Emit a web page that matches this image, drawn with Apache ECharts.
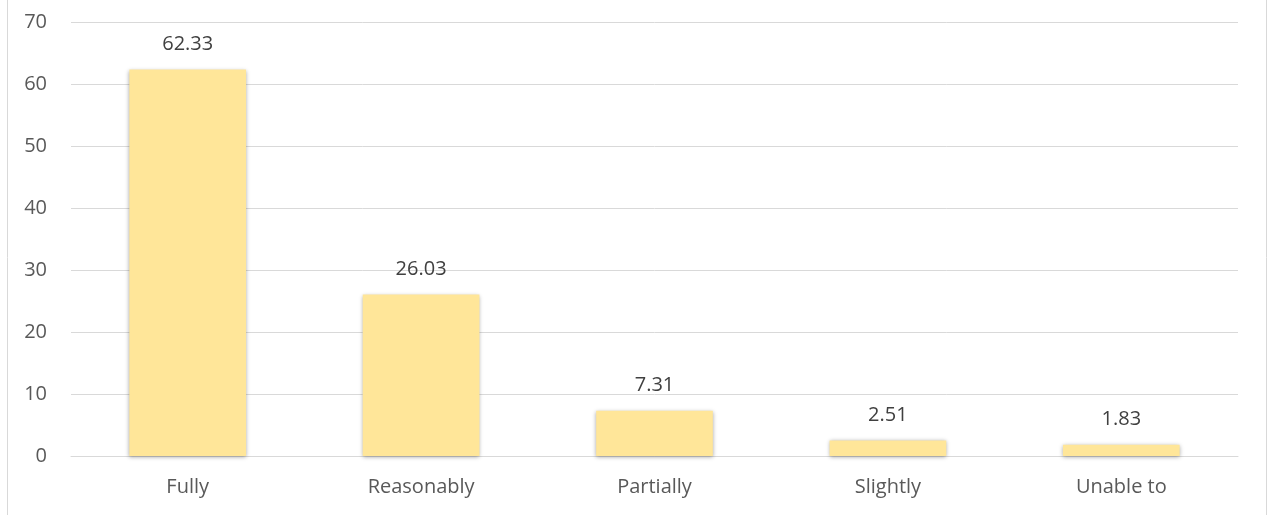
<!DOCTYPE html>
<html><head><meta charset="utf-8">
<script src="https://cdn.jsdelivr.net/npm/echarts@6/dist/echarts.min.js"></script>
<style>html,body{margin:0;padding:0;background:#fff}#c{width:1268px;height:515px}</style>
</head><body><div id="c"></div>
<script>
const categories = ["Fully", "Reasonably", "Partially", "Slightly", "Unable to"];
const values = [62.33, 26.03, 7.31, 2.51, 1.83];
const yTicks = {min: 0, max: 70, interval: 10};

const chart = echarts.init(document.getElementById('c'));
chart.setOption({
  animation: false,
  textStyle: {fontFamily: 'Open Sans'},
  grid: {left: 71, right: 30, top: 22, bottom: 59, containLabel: false},
  graphic: [
    {type: 'line', shape: {x1: 7.5, y1: 0, x2: 7.5, y2: 515}, style: {stroke: '#d9d9d9', lineWidth: 1}},
    {type: 'line', shape: {x1: 1266.5, y1: 0, x2: 1266.5, y2: 515}, style: {stroke: '#d9d9d9', lineWidth: 1}}
  ],
  xAxis: {
    type: 'category', data: categories,
    axisLine: {lineStyle: {color: '#d9d9d9', width: 1}},
    axisTick: {show: false},
    axisLabel: {color: '#595959', fontSize: 20, margin: 21}
  },
  yAxis: {
    type: 'value', min: yTicks.min, max: yTicks.max, interval: yTicks.interval,
    axisLine: {show: false}, axisTick: {show: false},
    splitLine: {lineStyle: {color: '#d9d9d9', width: 1}},
    axisLabel: {color: '#595959', fontSize: 20, margin: 24}
  },
  series: [{
    type: 'bar', data: values, barWidth: '50%',
    itemStyle: {color: '#FFE699', shadowBlur: 4, shadowColor: 'rgba(0,0,0,0.35)', shadowOffsetX: 0, shadowOffsetY: 1},
    label: {show: true, position: 'top', distance: 15, color: '#404040', fontSize: 20,
      formatter: p => p.value.toFixed(2)}
  }]
});
</script></body></html>
